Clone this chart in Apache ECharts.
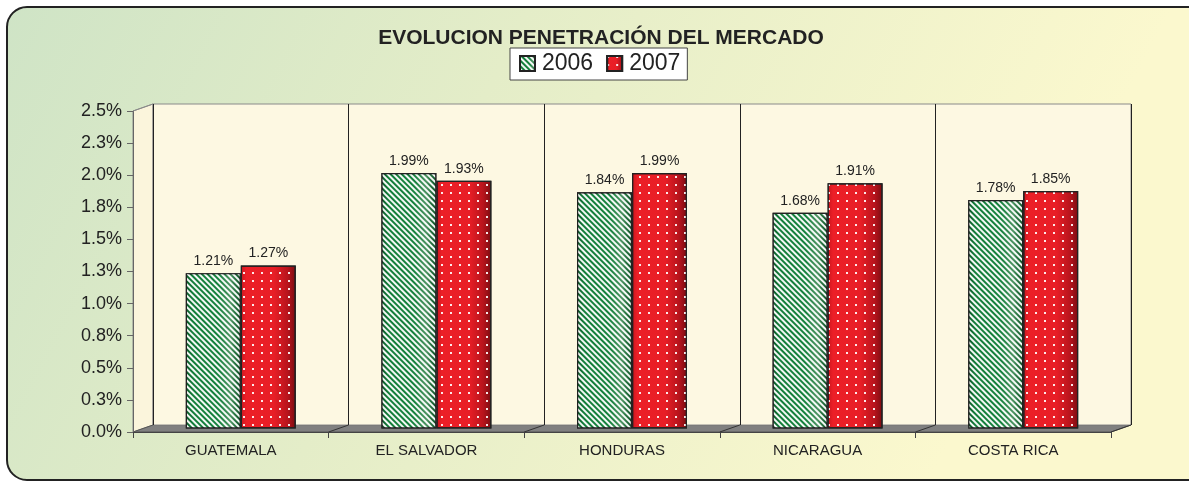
<!DOCTYPE html>
<html>
<head>
<meta charset="utf-8">
<script src="https://cdn.jsdelivr.net/npm/echarts@6/dist/echarts.min.js"></script>
<style>
html,body{margin:0;padding:0;background:#fff;}
#chart{width:1189px;height:483px;}
</style>
</head>
<body>
<div id="chart"></div>
<script>
const categories = ['GUATEMALA', 'EL SALVADOR', 'HONDURAS', 'NICARAGUA', 'COSTA RICA'];
const values2006 = [1.21, 1.99, 1.84, 1.68, 1.78];
const values2007 = [1.27, 1.93, 1.99, 1.91, 1.85];
const seriesNames = ['2006', '2007'];
const yTickValues = [0, 0.25, 0.5, 0.75, 1, 1.25, 1.5, 1.75, 2, 2.25, 2.5];
const yTickLabels = ['0.0%', '0.3%', '0.5%', '0.8%', '1.0%', '1.3%', '1.5%', '1.8%', '2.0%', '2.3%', '2.5%'];

const FONT = '"Liberation Sans", Arial, sans-serif';
// front plot box
const FL = 133, FT = 111, FW = 978, FH = 321;
// depth offset
const DX = 20, DY = -7;

const chart = echarts.init(document.getElementById('chart'), null, {renderer: 'canvas'});

function tickLabel(v) {
  for (let i = 0; i < yTickValues.length; i++) {
    if (Math.abs(yTickValues[i] - v) < 1e-6) return yTickLabels[i];
  }
  return '';
}

const greenFill = new echarts.graphic.LinearGradient(0, 0, 1, 0, [
  {offset: 0, color: '#0b5526'}, {offset: 0.12, color: '#137e3a'},
  {offset: 0.6, color: '#15823d'}, {offset: 0.82, color: '#4e9463'}, {offset: 0.88, color: '#2d7a46'}, {offset: 1, color: '#0d4f25'}
]);
const redFill = new echarts.graphic.LinearGradient(0, 0, 1, 0, [
  {offset: 0, color: '#c8161e'}, {offset: 0.1, color: '#ec1f27'},
  {offset: 0.6, color: '#e81e26'}, {offset: 0.85, color: '#b8141c'}, {offset: 1, color: '#7a0c10'}
]);

const floorLines = [];
for (let i = 1; i < categories.length; i++) {
  const x = FL + FW * i / categories.length;
  floorLines.push({type: 'line', shape: {x1: x, y1: FT + FH, x2: x + DX, y2: FT + FH + DY},
    style: {stroke: '#333', lineWidth: 1}, z: 1});
}

const option = {
  animation: false,
  backgroundColor: 'transparent',
  graphic: [
    {type: 'rect', shape: {x: 7, y: 7, width: 1230, height: 473, r: 20},
      style: {fill: new echarts.graphic.LinearGradient(0, 0, 0.75, 1, [
        {offset: 0, color: '#cfe4c6'}, {offset: 0.45, color: '#e4edc8'}, {offset: 1, color: '#fbf8ce'}
      ]), stroke: '#222', lineWidth: 2}, z: -10},
    // left side wall
    {type: 'polygon', shape: {points: [[FL, FT], [FL + DX, FT + DY], [FL + DX, FT + FH + DY], [FL, FT + FH]]},
      style: {fill: '#fbf5dc', stroke: '#8a8a8a', lineWidth: 1}, z: -5},
    // floor
    {type: 'polygon', shape: {points: [[FL, FT + FH], [FL + DX, FT + FH + DY], [FL + FW + DX, FT + FH + DY], [FL + FW, FT + FH]]},
      style: {fill: '#808080', stroke: '#555', lineWidth: 1}, z: -4},
    {type: 'line', shape: {x1: FL + FW, y1: FT + FH, x2: FL + FW + DX, y2: FT + FH + DY}, style: {stroke: '#333', lineWidth: 1}, z: 1},
    {type: 'line', shape: {x1: FL, y1: FT, x2: FL + DX, y2: FT + DY}, style: {stroke: '#8a8a8a', lineWidth: 1}, z: 1}
  ].concat(floorLines),
  title: {
    text: 'EVOLUCION PENETRACIÓN DEL MERCADO',
    left: 596, top: 23, textAlign: 'center',
    textStyle: {fontFamily: FONT, fontSize: 21, fontWeight: 'bold', color: '#222'}
  },
  legend: {
    data: seriesNames,
    left: 510, top: 48,
    backgroundColor: '#ffffff', borderColor: '#444', borderWidth: 1,
    padding: [4, 7, 5, 9],
    itemWidth: 15, itemHeight: 15, itemGap: 13,
    icon: 'rect',
    textStyle: {fontFamily: FONT, fontSize: 23, color: '#222', padding: [0, 0, 0, 2]}
  },
  grid: [
    {left: FL + DX, top: FT + DY, width: FW, height: FH, show: true, backgroundColor: '#fdf8e2', borderColor: '#8a8a8a', borderWidth: 1, z: -1},
    {left: FL, top: FT, width: FW, height: FH},
    {left: FL + DX / 2, top: FT + DY / 2, width: FW, height: FH}
  ],
  xAxis: [
    {gridIndex: 0, type: 'category', data: categories, axisLine: {show: false}, axisTick: {show: false}, axisLabel: {show: false},
      splitLine: {show: true, lineStyle: {color: '#222', width: 1}}},
    {gridIndex: 1, type: 'category', data: categories,
      axisLine: {show: true, lineStyle: {color: '#444', width: 1}},
      axisTick: {show: true, length: 6, lineStyle: {color: '#444'}},
      axisLabel: {fontFamily: FONT, fontSize: 15, color: '#222', margin: 11}},
    {gridIndex: 2, type: 'category', data: categories, show: false}
  ],
  yAxis: [
    {gridIndex: 0, type: 'value', min: 0, max: 2.5, interval: 0.25, show: false, splitLine: {show: false}},
    {gridIndex: 1, type: 'value', min: 0, max: 2.5, interval: 0.25,
      axisLine: {show: true, lineStyle: {color: '#666', width: 1}},
      axisTick: {show: true, length: 6, lineStyle: {color: '#666'}},
      splitLine: {show: false},
      axisLabel: {fontFamily: FONT, fontSize: 18, color: '#222', margin: 11, formatter: tickLabel}},
    {gridIndex: 2, type: 'value', min: 0, max: 2.5, interval: 0.25, show: false, splitLine: {show: false}}
  ],
  series: [
    {
      name: '2006', type: 'bar', xAxisIndex: 2, yAxisIndex: 2, data: values2006,
      barWidth: 55, barGap: '0%',
      itemStyle: {color: greenFill, borderColor: '#222', borderWidth: 1.2,
        decal: {symbol: 'rect', symbolSize: 1, color: 'rgba(255,255,255,0.95)', dashArrayX: [[1, 0]], dashArrayY: [2, 2], rotation: Math.PI / 4}},
      label: {show: true, position: 'top', distance: 5, fontFamily: FONT, fontSize: 14, color: '#222',
        formatter: p => p.value.toFixed(2) + '%'}
    },
    {
      name: '2007', type: 'bar', xAxisIndex: 2, yAxisIndex: 2, data: values2007,
      barWidth: 55, barGap: '0%',
      itemStyle: {color: redFill, borderColor: '#222', borderWidth: 1.2,
        decal: {symbol: 'rect', symbolSize: 1, color: 'rgba(255,255,255,0.9)', dashArrayX: [2, 6.5], dashArrayY: [2, 5.5]}},
      label: {show: true, position: 'top', distance: 5, fontFamily: FONT, fontSize: 14, color: '#222',
        formatter: p => p.value.toFixed(2) + '%'}
    }
  ]
};
chart.setOption(option);
</script>
</body>
</html>
